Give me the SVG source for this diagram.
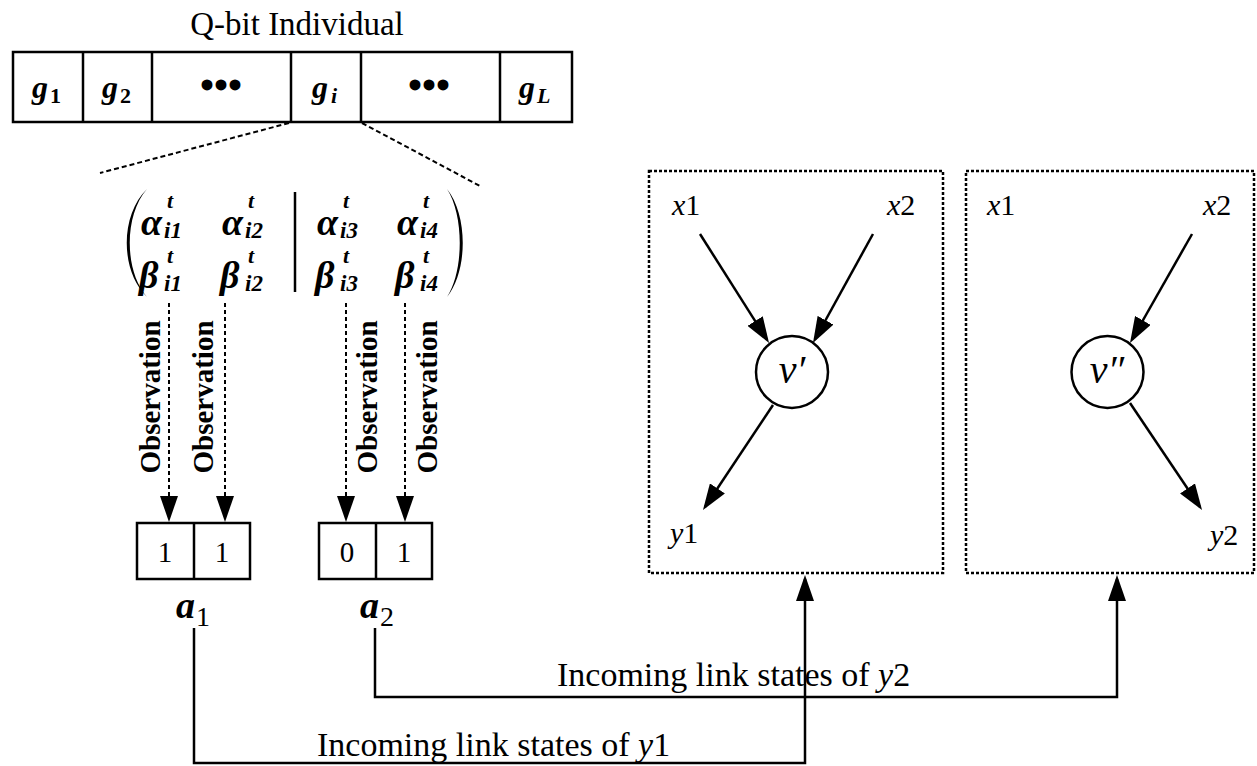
<svg xmlns="http://www.w3.org/2000/svg" width="1257" height="766" viewBox="0 0 1257 766">
<style>
text{font-family:"Liberation Serif","Times New Roman",serif;fill:#000}
.bi{font-weight:bold;font-style:italic}
.b{font-weight:bold}
.i{font-style:italic}
.box{fill:#fff;stroke:#000;stroke-width:2.5}
.dash{fill:none;stroke:#000;stroke-width:2;stroke-dasharray:5 3}
.dot{fill:none;stroke:#000;stroke-width:2.5;stroke-dasharray:3 2}
.obs{fill:none;stroke:#000;stroke-width:2;stroke-dasharray:4 3}
.solid{fill:none;stroke:#000;stroke-width:2.5}
.ar{marker-end:url(#ah)}
.lbl{font-size:30px}
.m{font-style:italic;font-weight:bold;font-size:38px}
.ms{font-style:italic;font-weight:bold;font-size:23px}
.mt{font-style:italic;font-weight:bold;font-size:22px}
</style>
<defs>
<marker id="ah" markerUnits="userSpaceOnUse" markerWidth="26" markerHeight="18" viewBox="0 0 26 18" refX="22" refY="9" orient="auto">
<path d="M0,0 L26,9 L0,18 Z" fill="#000"/>
</marker>
</defs>

<g id="title"><text x="297" y="35" font-size="33" text-anchor="middle">Q-bit Individual</text></g>

<g id="qbit-individual">
<rect class="box" x="13" y="52" width="559" height="70"/>
<line class="solid" x1="83" y1="52" x2="83" y2="122"/>
<line class="solid" x1="152" y1="52" x2="152" y2="122"/>
<line class="solid" x1="291" y1="52" x2="291" y2="122"/>
<line class="solid" x1="361" y1="52" x2="361" y2="122"/>
<line class="solid" x1="500" y1="52" x2="500" y2="122"/>
<text class="bi" x="32" y="98" font-size="32">g</text><text class="b" x="50" y="103" font-size="22">1</text>
<text class="bi" x="102" y="98" font-size="32">g</text><text class="b" x="120" y="103" font-size="22">2</text>
<text class="b" x="221" y="99" font-size="40" text-anchor="middle">•••</text>
<text class="bi" x="312" y="98" font-size="32">g</text><text class="bi" x="331" y="103" font-size="22">i</text>
<text class="b" x="429" y="99" font-size="40" text-anchor="middle">•••</text>
<text class="bi" x="519" y="98" font-size="32">g</text><text class="bi" x="537" y="103" font-size="22">L</text>
</g>

<g id="gene-expansion">
<line class="dash" x1="289" y1="123" x2="100" y2="173"/>
<line class="dash" x1="362" y1="123" x2="480" y2="186"/>
</g>

<g id="matrix">
<path d="M147,189 C120,215 120,271 147,297 C124,271 124,215 147,189 Z" fill="#000"/>
<path d="M447,189 C468,215 468,271 447,297 C464,271 464,215 447,189 Z" fill="#000"/>
<line class="solid" x1="295" y1="192" x2="295" y2="292" stroke-width="2"/>
<text class="m" x="141" y="235">α</text><text class="ms" x="164" y="238">i1</text><text class="mt" x="167" y="208">t</text>
<text class="m" x="222" y="235">α</text><text class="ms" x="245" y="238">i2</text><text class="mt" x="248" y="208">t</text>
<text class="m" x="317" y="235">α</text><text class="ms" x="340" y="238">i3</text><text class="mt" x="343" y="208">t</text>
<text class="m" x="397" y="235">α</text><text class="ms" x="420" y="238">i4</text><text class="mt" x="423" y="208">t</text>
<text class="m" x="139" y="288">β</text><text class="ms" x="164" y="291">i1</text><text class="mt" x="167" y="263">t</text>
<text class="m" x="220" y="288">β</text><text class="ms" x="245" y="291">i2</text><text class="mt" x="248" y="263">t</text>
<text class="m" x="315" y="288">β</text><text class="ms" x="340" y="291">i3</text><text class="mt" x="343" y="263">t</text>
<text class="m" x="395" y="288">β</text><text class="ms" x="420" y="291">i4</text><text class="mt" x="423" y="263">t</text>
</g>

<g id="observations">
<text class="b" font-size="29" text-anchor="middle" transform="translate(160,397) rotate(-90)">Observation</text>
<text class="b" font-size="29" text-anchor="middle" transform="translate(213,397) rotate(-90)">Observation</text>
<text class="b" font-size="29" text-anchor="middle" transform="translate(377,397) rotate(-90)">Observation</text>
<text class="b" font-size="29" text-anchor="middle" transform="translate(437,397) rotate(-90)">Observation</text>
</g>

<g id="a1">
<rect class="box" x="137" y="523" width="113" height="56"/>
<line class="solid" x1="194" y1="523" x2="194" y2="579"/>
<text x="165" y="562" font-size="29" text-anchor="middle">1</text>
<text x="222" y="562" font-size="29" text-anchor="middle">1</text>
<text class="bi" x="176" y="618" font-size="38">a</text><text x="196" y="626" font-size="28">1</text>
</g>

<g id="a2">
<rect class="box" x="319" y="523" width="113" height="56"/>
<line class="solid" x1="376" y1="523" x2="376" y2="579"/>
<text x="347" y="562" font-size="29" text-anchor="middle">0</text>
<text x="404" y="562" font-size="29" text-anchor="middle">1</text>
<text class="bi" x="360" y="618" font-size="38">a</text><text x="380" y="626" font-size="28">2</text>
</g>

<g id="network-y1">
<rect class="dot" x="649" y="171" width="294" height="402"/>
<text class="lbl" x="672" y="215"><tspan class="i">x</tspan>1</text>
<text class="lbl" x="887" y="215"><tspan class="i">x</tspan>2</text>
<text class="lbl" x="670" y="543"><tspan class="i">y</tspan>1</text>
<circle cx="792" cy="372" r="36" fill="#fff" stroke="#000" stroke-width="2.5"/>
<text class="i" x="792" y="383" font-size="40" text-anchor="middle">v′</text>
</g>

<g id="network-y2">
<rect class="dot" x="966" y="171" width="288" height="402"/>
<text class="lbl" x="987" y="215"><tspan class="i">x</tspan>1</text>
<text class="lbl" x="1203" y="215"><tspan class="i">x</tspan>2</text>
<text class="lbl" x="1210" y="545"><tspan class="i">y</tspan>2</text>
<circle cx="1107.5" cy="372" r="36" fill="#fff" stroke="#000" stroke-width="2.5"/>
<text class="i" x="1107" y="383" font-size="40" text-anchor="middle">v″</text>
</g>

<g id="connectors">
<line class="obs ar" x1="169" y1="303" x2="169" y2="518"/>
<line class="obs ar" x1="225" y1="303" x2="225" y2="518"/>
<line class="obs ar" x1="346" y1="303" x2="346" y2="518"/>
<line class="obs ar" x1="405" y1="303" x2="405" y2="518"/>
<line class="solid ar" x1="700" y1="234" x2="766.9" y2="339.6"/>
<line class="solid ar" x1="873" y1="234" x2="814.9" y2="339.5"/>
<line class="solid ar" x1="773" y1="405" x2="705.2" y2="506.7"/>
<line class="solid ar" x1="1192" y1="234" x2="1132" y2="339.5"/>
<line class="solid ar" x1="1130" y1="403" x2="1199.8" y2="506.7"/>
<path class="solid ar" d="M194,628 V763 H805 V579"/>
<path class="solid ar" d="M375,628 V697 H1117 V579"/>
<text x="317" y="756" font-size="34">Incoming link states of <tspan class="i">y</tspan>1</text>
<text x="557" y="686" font-size="34">Incoming link states of <tspan class="i">y</tspan>2</text>
</g>
</svg>
